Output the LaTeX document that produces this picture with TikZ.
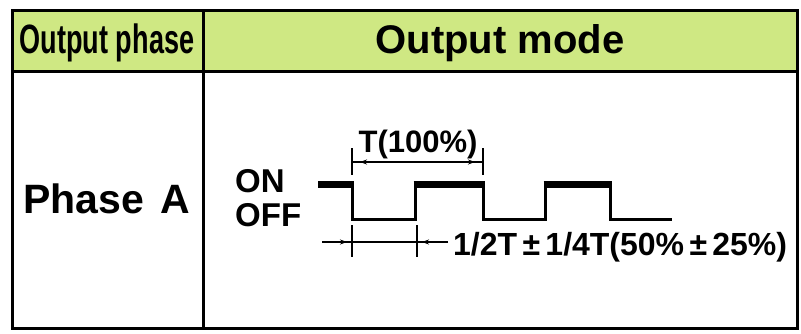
\documentclass[tikz,border=0pt]{standalone}
\usepackage{fontspec}
\setmainfont{Liberation Sans}
\usepackage{xcolor}
\definecolor{hdrgreen}{RGB}{207,232,131}
\usetikzlibrary{arrows.meta}

\begin{document}
\begin{tikzpicture}[x=1pt, y=-1pt,
  frame/.style={line width=3pt},
  wave/.style={line width=3pt, line join=miter},
  level/.style={line width=7pt},
  tickmark/.style={line width=2.5pt},
  dimline/.style={line width=1.6pt},
  txt/.style={inner sep=0pt}]

  \useasboundingbox (0,0) rectangle (801,333);

  % Table frame
  \fill[hdrgreen] (12,10) rectangle (797,71);
  \draw[frame] (12,10) rectangle (797,328);
  \draw[frame] (12,71) -- (797,71);
  \draw[frame] (203,10) -- (203,328);

  % Header
  \node[txt, anchor=base, xscale=0.66] (hphase) at (107,53) {\fontsize{41}{41}\selectfont\bfseries Output phase};
  \node[txt, anchor=base] (hmode) at (500,53) {\fontsize{40}{40}\selectfont\bfseries Output mode};

  % Row
  \node[txt, anchor=base west] (phasea) at (23,213) {\fontsize{41}{41}\selectfont\bfseries Phase\hspace{0.12em} A};
  \node[txt, anchor=base west] (on) at (235,192) {\fontsize{33}{33}\selectfont\bfseries ON};
  \node[txt, anchor=base west] (off) at (235,226) {\fontsize{33}{33}\selectfont\bfseries OFF};

  % Waveform
  \draw[wave] (352,184) -- (352,219) -- (415,219) -- (415,184);
  \draw[wave] (483,184) -- (483,219) -- (545,219) -- (545,184);
  \draw[wave] (610,184) -- (610,219) -- (672,219);
  \draw[level] (318,184.5) -- (353.5,184.5);
  \draw[level] (413.5,184.5) -- (484.5,184.5);
  \draw[level] (543.5,184.5) -- (611.5,184.5);

  % Period T
  \coordinate (ta) at (352,162);
  \coordinate (tb) at (483,162);
  \draw[tickmark] (352,148) -- (352,175);
  \draw[tickmark] (483,148) -- (483,175);
  \draw[dimline] (ta) -- (tb);
  \draw[dimline, {Stealth[length=7pt,width=5pt]}-{Stealth[length=7pt,width=5pt]}, shorten <=8pt, shorten >=8pt] (ta) -- (tb);
  \node[txt, anchor=base] (period) at (418,152) {\fontsize{31}{31}\selectfont\bfseries T(100\%)};

  % Duty
  \coordinate (da) at (352,242);
  \coordinate (db) at (417,242);
  \coordinate (dl) at (322,242);
  \coordinate (dr) at (448,242);
  \draw[tickmark] (352,225) -- (352,257);
  \draw[tickmark] (417,225) -- (417,257);
  \draw[dimline] (dl) -- (dr);
  \draw[dimline, -{Stealth[length=7pt,width=5pt]}, shorten >=5pt] (dl) -- (da);
  \draw[dimline, -{Stealth[length=7pt,width=5pt]}, shorten >=5pt] (dr) -- (db);
  \node[txt, anchor=base west] (duty) at (453,255) {\fontsize{32}{32}\selectfont\bfseries 1/2T\,±\,1/4T(50\%\,±\,25\%)};
\end{tikzpicture}
\end{document}
